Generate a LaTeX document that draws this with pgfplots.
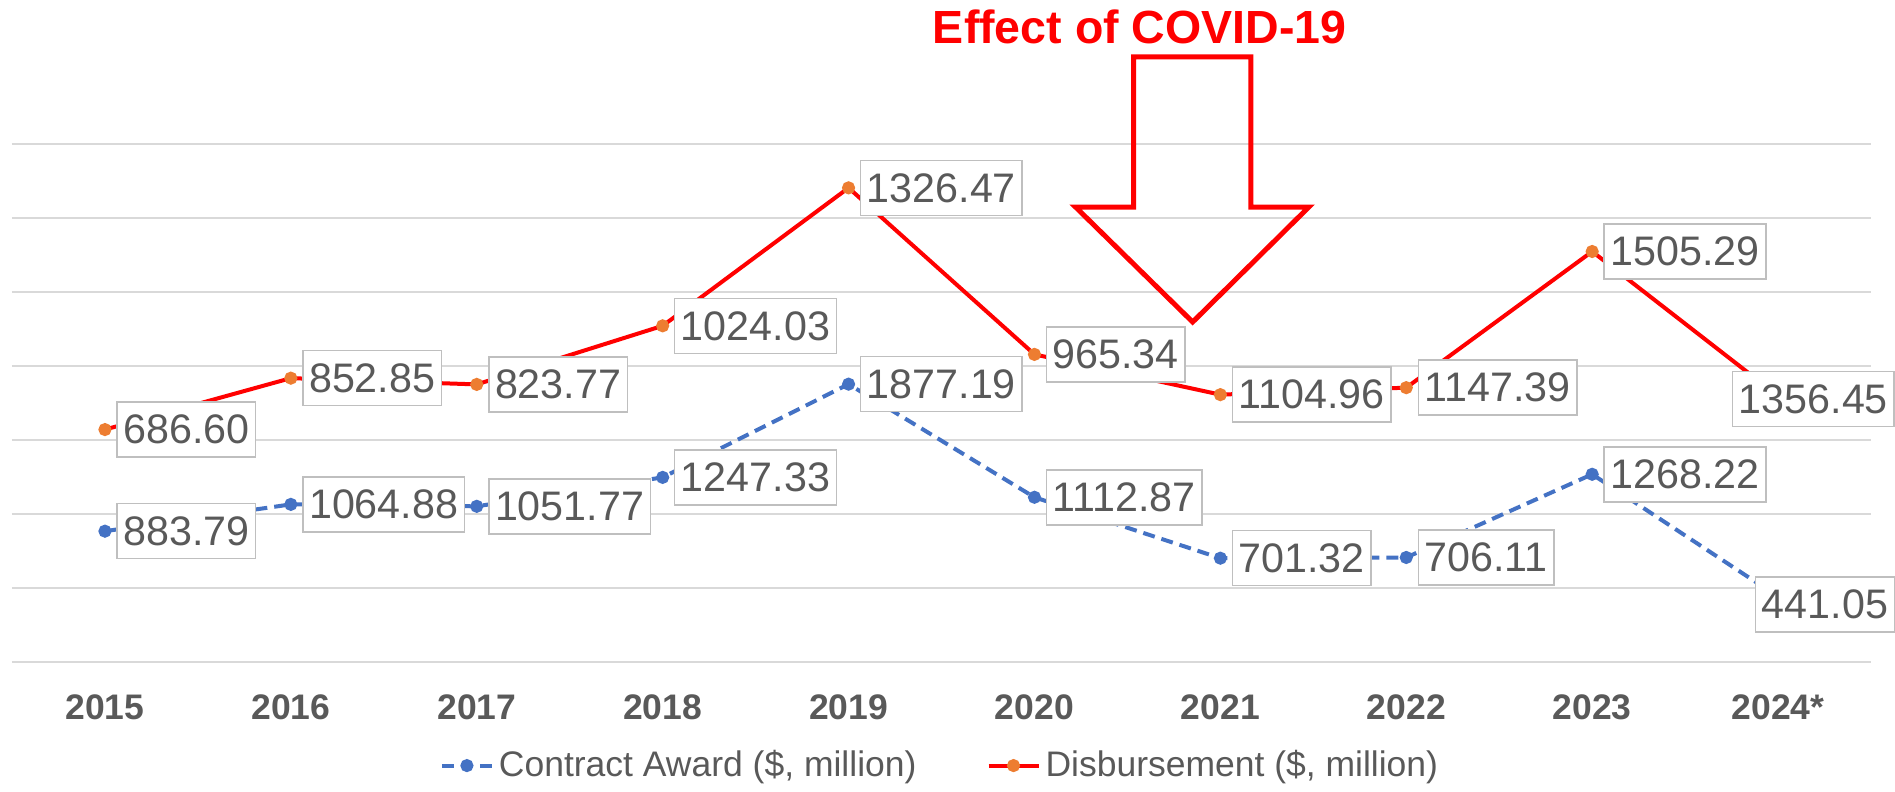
\documentclass[border=0pt]{standalone}
\usepackage{fontspec}
\setmainfont{Liberation Sans}
\usepackage{pgfplots}
\pgfplotsset{compat=1.18}
\usepackage{pgfplotstable}
\definecolor{ca}{HTML}{4472C4}
\definecolor{db}{HTML}{FF0000}
\definecolor{dbm}{HTML}{ED7D31}
\definecolor{txt}{HTML}{595959}
\definecolor{gridc}{HTML}{D9D9D9}
\definecolor{lblb}{HTML}{BFBFBF}

\pgfplotstableread{
x award disb awardlbl disblbl
0 883.79 686.60 883.79 686.60
1 1064.88 852.85 1064.88 852.85
2 1051.77 823.77 1051.77 823.77
3 1247.33 1024.03 1247.33 1024.03
4 1877.19 1326.47 1877.19 1326.47
5 1112.87 965.34 1112.87 965.34
6 701.32 1104.96 701.32 1104.96
7 706.11 1147.39 706.11 1147.39
8 1268.22 1505.29 1268.22 1505.29
9 441.05 1356.45 441.05 1356.45
}\data

\begin{document}
\begin{tikzpicture}
\begin{axis}[
  name=ax,
  scale only axis,
  width=743.6pt, height=207.2pt,
  xmin=-0.5, xmax=9.5, ymin=0, ymax=3500,
  ytick={0,500,...,3500}, yticklabels={},
  ymajorgrids, grid style={gridc, line width=0.8pt},
  axis line style={draw=none},
  tick style={draw=none},
  xtick={0,...,9},
  xticklabels={2015,2016,2017,2018,2019,2020,2021,2022,2023,2024*},
  x tick label style={anchor=center, yshift=-18pt, text=txt, font=\bfseries\fontsize{14.2}{16}\selectfont},
  stack plots=y,
  clip=false,
  point meta=explicit symbolic,
  nodes near coords,
  nodes near coords style={anchor=west, xshift=4.5pt, fill=white, draw=lblb, line width=0.6pt, text=txt,
     font=\fontsize{16.5}{18}\selectfont, inner xsep=2.5pt, inner ysep=0pt, minimum height=22pt},
  legend style={at={(0.5,-0.2)}, anchor=center, legend columns=2, draw=none, fill=none,
     font=\fontsize{14.2}{16}\selectfont, text=txt,
     /tikz/every even column/.append style={column sep=26pt}},
  legend image code/.code={\draw[mark repeat=2,mark phase=2] plot coordinates {(0pt,0pt) (10pt,0pt) (20pt,0pt)};},
]
\addplot[ca, line width=1.6pt, dash pattern=on 4.8pt off 2.8pt, mark=*, mark size=1.8pt,
  mark options={solid, fill=ca, draw=ca},
  coordinate style/.condition={x==9}{xshift=-13.8pt, yshift=-3.2pt}]
  table[x=x, y=award, meta=awardlbl] {\data};
\addlegendentry{Contract Award (\$, million)}
\addplot[db, line width=1.6pt, mark=*, mark size=1.8pt,
  mark options={solid, fill=dbm, draw=dbm},
  coordinate style/.condition={x==9}{xshift=-23pt, yshift=-1.2pt}]
  table[x=x, y=disb, meta=disblbl] {\data};
\addlegendentry{Disbursement (\$, million)}
\draw[db, line width=2pt] (axis cs:5.533,4088) -- (axis cs:6.164,4088) -- (axis cs:6.164,3074) -- (axis cs:6.476,3074) -- (axis cs:5.851,2297) -- (axis cs:5.221,3074) -- (axis cs:5.533,3074) -- cycle;
\node[text=db, font=\bfseries\fontsize{18.6}{20}\selectfont] at (axis cs:5.566,4290) {Effect of COVID-19};
\end{axis}
\pgfresetboundingbox
\path[use as bounding box] ([xshift=-4.8pt, yshift=-52pt]ax.south west) rectangle ([xshift=9.6pt, yshift=57.6pt]ax.north east);
\end{tikzpicture}
\end{document}
